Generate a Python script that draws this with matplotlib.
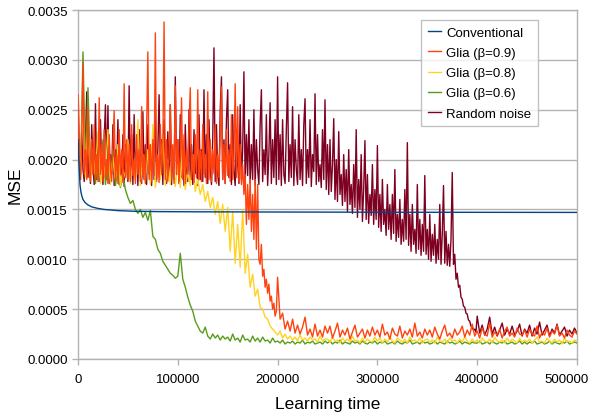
import numpy as np
import matplotlib
matplotlib.use("Agg")
import matplotlib.pyplot as plt
from matplotlib.ticker import FuncFormatter, MultipleLocator
from matplotlib.transforms import ScaledTranslation

plt.rcParams['font.family'] = ['Liberation Sans', 'DejaVu Sans']

# MSE values are given in units of 1e-4; learning time in samples
MSE_UNIT = 1e-4
FINE_STEP = 1250     # sampling of the dense (noisy) head segments
STEP = 2500          # sampling of the remaining segments

series_names = ["Conventional", "Glia (β=0.9)", "Glia (β=0.8)", "Glia (β=0.6)", "Random noise"]
x_ticks = [0, 100000, 200000, 300000, 400000, 500000]

# Conventional (smooth curve), x in thousands
conv_x_k = [0, 1, 2, 3, 4, 5, 7, 10, 14, 20, 26, 32, 40, 55, 80, 120, 200, 300, 400, 500]
conv_y = [22.0, 19.5, 17.5, 16.7, 16.3, 16.0, 15.7, 15.45, 15.25, 15.1, 15.0, 14.95,
          14.88, 14.82, 14.78, 14.76, 14.74, 14.72, 14.71, 14.7]

# Glia beta=0.9: head 0..198750 (step 1250), tail 200000..500000 (step 2500)
glia09_head = (
    [26.5, 20.0, 18.0, 22.5, 29.7, 18.5, 21.0, 18.0, 25.3, 19.0, 17.8, 22.0, 18.5, 23.5, 18.0, 20.5, 17.8, 26.2, 18.5, 21.5]
    + [17.8, 23.0, 18.2, 20.0, 17.6, 22.5, 19.0, 17.8, 21.5, 24.9, 18.0, 20.5, 17.6, 23.0, 18.5, 21.0, 17.7, 27.6, 18.2, 22.0]
    + [18.0, 21.5, 17.8, 23.5, 18.4, 20.0, 17.6, 22.5, 18.5, 21.0, 17.8, 25.3, 18.2, 20.5, 17.6, 23.0, 30.8, 18.0, 21.5, 17.8]
    + [22.0, 18.4, 32.7, 18.0, 20.5, 17.7, 23.5, 18.5, 21.0, 33.8, 18.0, 22.0, 17.8, 20.5, 25.5, 18.2, 21.5, 17.6, 27.4, 18.5]
    + [22.0, 17.8, 20.5, 26.2, 18.0, 22.5, 17.6, 21.0, 18.5, 23.5, 27.2, 18.0, 20.5, 17.7, 22.5, 18.2, 27.0, 18.0, 21.0, 17.8]
    + [23.5, 18.5, 20.5, 17.6, 26.8, 18.0, 22.0, 17.8, 21.0, 18.6, 23.5, 17.6, 20.5, 18.2, 22.5, 27.3, 18.0, 21.5, 17.6, 23.0]
    + [18.4, 21.0, 17.8, 24.5, 18.0, 20.5, 27.6, 18.2, 25.3, 17.8, 21.5, 17.5, 19.5, 16.5, 18.5, 13.5, 17.5, 14.0, 18.0, 12.8]
    + [16.5, 12.0, 18.0, 11.0, 17.5, 10.0, 9.5, 11.5, 8.3, 9.0, 7.2, 8.0, 6.6, 7.5, 5.8, 6.3, 5.0, 5.6, 4.3, 4.8]
)
glia09_tail = (
    [8.2, 4.0, 4.6, 3.0, 3.8, 2.8, 4.0, 2.6, 3.4, 2.5, 3.2, 4.2, 2.4, 3.0, 2.2, 3.5, 2.3, 2.9, 2.2, 3.3]
    + [2.6, 3.3, 2.1, 2.8, 3.6, 2.2, 2.9, 2.4, 3.1, 2.0, 2.7, 3.4, 2.2, 2.6, 3.0, 2.1, 2.9, 2.3, 3.2, 2.4]
    + [2.9, 2.2, 3.5, 2.4, 2.7, 2.0, 3.1, 2.5, 2.3, 3.3, 2.1, 2.8, 2.4, 3.0, 2.2, 3.6, 2.3, 2.7, 2.1, 3.0]
    + [2.4, 2.9, 2.2, 3.2, 2.5, 2.0, 2.8, 3.4, 2.3, 2.6, 2.1, 3.0, 2.4, 2.7, 3.3, 2.2, 2.9, 2.4, 3.5, 2.3]
    + [2.8, 2.1, 3.1, 2.5, 2.3, 3.6, 2.2, 2.7, 2.4, 3.0, 2.1, 2.8, 3.2, 2.3, 2.6, 2.2, 3.1, 2.5, 2.4, 2.9]
    + [2.2, 3.0, 2.5, 2.3, 3.3, 2.1, 2.7, 2.4, 3.1, 2.2, 2.8, 2.5, 3.4, 2.3, 2.6, 2.1, 2.9, 2.4, 2.2, 2.8]
    + [2.5]
)

# Glia beta=0.8: 0..500000 (step 2500)
glia08 = (
    [21.5, 19.0, 26.0, 18.2, 23.5, 17.8, 20.5, 18.5, 22.8, 17.6, 19.8, 18.4, 23.0, 17.5, 20.2, 18.0, 21.5, 17.3, 19.0, 18.2]
    + [22.0, 17.6, 19.5, 18.0, 24.0, 17.4, 20.5, 17.8, 21.0, 17.5, 23.5, 17.2, 19.8, 18.0, 22.5, 17.4, 20.0, 17.5, 21.2, 17.3]
    + [19.5, 17.2, 22.0, 17.0, 18.8, 17.4, 20.5, 16.8, 18.0, 16.5, 17.5, 15.8, 16.8, 15.2, 16.2, 14.5, 15.8, 13.6, 15.5, 12.8]
    + [15.2, 10.8, 14.8, 9.6, 13.5, 9.2, 15.0, 8.6, 10.5, 7.2, 8.5, 6.3, 7.0, 5.2, 5.0, 4.2, 4.0, 3.3, 3.0, 2.7]
    + [2.4, 2.8, 2.1, 2.5, 2.0, 2.3, 1.9, 2.2, 1.8, 2.4, 1.9, 2.1, 1.8, 2.2, 1.9, 2.0, 1.7, 2.3, 1.8, 2.0]
    + [2.0, 1.7, 2.2, 1.8, 1.9, 1.6, 2.1, 1.8, 2.0, 1.7, 2.3, 1.8, 1.9, 1.6, 2.1, 1.7, 2.0, 1.8, 1.7, 2.2]
    + [1.8, 2.1, 1.6, 2.0, 1.7, 2.2, 1.8, 1.6, 2.1, 1.9, 1.7, 2.0, 1.6, 2.2, 1.8, 1.9, 1.7, 2.1, 1.6, 1.9]
    + [2.0, 1.7, 1.9, 1.6, 2.2, 1.8, 1.7, 2.0, 1.6, 2.1, 1.8, 1.9, 1.6, 2.0, 1.7, 2.2, 1.8, 1.6, 2.0, 1.7]
    + [1.9, 1.6, 2.1, 1.8, 1.7, 2.0, 1.6, 2.2, 1.8, 1.7, 1.9, 1.6, 2.1, 1.7, 2.0, 1.8, 1.6, 2.1, 1.7, 1.9]
    + [1.7, 2.0, 1.6, 1.9, 2.2, 1.7, 1.8, 1.6, 2.1, 1.8, 1.6, 2.0, 1.7, 1.9, 1.5, 2.1, 1.7, 1.8, 1.6, 1.9]
    + [1.8]
)

# Glia beta=0.6: 0..500000 (step 2500)
glia06 = (
    [22.5, 18.0, 30.8, 19.0, 27.2, 18.5, 21.0, 17.6, 20.5, 18.2, 22.0, 17.5, 19.5, 18.0, 21.0, 17.4, 19.0, 17.2, 18.5, 17.0]
    + [16.2, 15.6, 15.9, 15.0, 14.6, 15.0, 14.2, 14.7, 13.9, 14.9, 12.3, 12.0, 11.0, 10.6, 9.8, 9.4, 9.0, 8.6, 8.4, 8.1]
    + [8.3, 10.6, 8.0, 7.2, 6.2, 5.4, 4.8, 3.8, 3.3, 2.8, 2.6, 3.2, 2.3, 2.0, 2.5, 2.1, 2.4, 1.9, 2.3, 2.0]
    + [2.2, 1.8, 2.5, 1.9, 2.1, 1.7, 2.4, 1.9, 2.0, 1.7, 2.3, 1.8, 2.1, 1.7, 2.2, 1.8, 1.9, 1.6, 2.1, 1.7]
    + [1.8, 1.6, 1.9, 1.5, 1.7, 1.6, 1.8, 1.5, 1.7, 1.6, 1.9, 1.5, 1.7, 1.6, 1.8, 1.5, 1.6, 1.7, 1.5, 1.8]
    + [1.6, 1.8, 1.5, 1.7, 1.6, 1.9, 1.5, 1.7, 1.6, 1.5, 1.8, 1.6, 1.7, 1.5, 1.8, 1.6, 1.5, 1.7, 1.6, 1.8]
    + [1.5, 1.7, 1.6, 1.8, 1.5, 1.6, 1.7, 1.5, 1.8, 1.6, 1.5, 1.7, 1.6, 1.9, 1.5, 1.6, 1.7, 1.5, 1.8, 1.6]
    + [1.7, 1.5, 1.6, 1.8, 1.5, 1.7, 1.6, 1.5, 1.8, 1.6, 1.7, 1.5, 1.6, 1.8, 1.5, 1.7, 1.6, 1.5, 1.7, 1.6]
    + [1.6, 1.8, 1.5, 1.6, 1.7, 1.5, 1.8, 1.6, 1.5, 1.7, 1.6, 1.8, 1.5, 1.6, 1.7, 1.5, 1.6, 1.8, 1.5, 1.7]
    + [1.5, 1.7, 1.6, 1.8, 1.5, 1.6, 1.7, 1.5, 1.6, 1.8, 1.5, 1.7, 1.6, 1.5, 1.7, 1.6, 1.8, 1.5, 1.6, 1.7]
    + [1.6]
)

# Random noise: head 0..398750 (step 1250), tail 400000..500000 (step 2500)
noise_head = (
    [27.7, 21.0, 18.5, 23.0, 19.0, 17.8, 22.0, 26.8, 18.2, 20.5, 17.6, 23.5, 19.2, 17.5, 25.6, 18.0, 21.5, 17.8, 24.0, 19.0]
    + [17.5, 22.0, 25.5, 18.0, 25.4, 17.6, 20.5, 18.5, 23.5, 17.4, 21.0, 19.0, 24.0, 17.5, 20.0, 18.2, 22.5, 17.3, 21.5, 19.0]
    + [17.8, 27.4, 18.0, 22.5, 17.5, 24.5, 18.8, 21.0, 17.4, 23.0, 19.5, 17.6, 24.8, 18.0, 21.5, 17.5, 23.5, 18.5, 20.5, 17.4]
    + [22.5, 18.0, 25.0, 17.8, 21.0, 26.5, 18.2, 22.0, 17.5, 24.0, 19.0, 17.6, 22.8, 18.4, 25.5, 17.5, 21.0, 18.0, 28.3, 18.5]
    + [22.0, 17.6, 24.5, 18.2, 21.0, 17.4, 23.5, 19.0, 17.8, 25.0, 18.0, 21.5, 17.5, 23.0, 18.6, 20.5, 17.4, 24.5, 18.0, 21.0]
    + [17.8, 27.0, 18.2, 22.5, 17.6, 24.0, 19.0, 17.5, 22.0, 31.2, 17.8, 23.5, 18.5, 17.4, 25.0, 28.3, 18.0, 22.0, 17.6, 24.0]
    + [27.0, 18.2, 21.5, 17.5, 24.5, 18.8, 17.4, 23.0, 19.5, 17.6, 25.5, 18.0, 21.0, 28.8, 17.5, 22.5, 18.4, 24.0, 17.6, 21.5]
    + [18.0, 25.0, 17.4, 22.0, 19.0, 17.5, 23.5, 27.0, 17.8, 21.0, 18.5, 24.5, 17.4, 20.5, 25.7, 17.6, 22.0, 18.2, 24.0, 17.5]
    + [28.3, 18.0, 22.5, 17.4, 24.0, 18.5, 17.6, 23.0, 27.7, 17.8, 21.5, 18.2, 25.3, 17.4, 22.0, 19.0, 17.5, 24.5, 18.0, 21.0]
    + [17.4, 23.5, 26.1, 17.6, 21.0, 18.2, 24.0, 17.3, 20.5, 18.8, 26.6, 17.5, 22.5, 17.8, 19.5, 17.2, 23.0, 18.0, 26.0, 17.0]
    + [21.5, 16.5, 22.0, 16.8, 19.5, 24.1, 16.0, 20.0, 15.8, 22.8, 16.5, 18.5, 15.4, 20.5, 15.8, 19.0, 14.8, 21.0, 15.5, 17.5]
    + [14.6, 19.5, 15.2, 23.0, 14.2, 18.0, 15.0, 20.5, 13.8, 17.0, 21.9, 14.0, 18.5, 13.6, 16.5, 14.4, 19.5, 13.5, 17.0, 14.0]
    + [21.4, 13.2, 16.5, 12.8, 18.0, 13.5, 15.0, 12.4, 17.5, 13.0, 15.5, 12.0, 16.5, 12.6, 19.0, 11.8, 14.5, 12.2, 16.0, 11.5]
    + [14.0, 11.8, 17.0, 12.0, 21.7, 11.4, 14.5, 10.8, 15.5, 11.5, 13.0, 10.6, 17.5, 11.0, 14.0, 10.4, 13.5, 10.8, 18.4, 10.5]
    + [13.0, 10.0, 14.5, 9.8, 12.5, 10.4, 13.5, 9.6, 12.0, 10.0, 15.5, 9.5, 12.5, 17.4, 9.6, 12.8, 9.4, 11.5, 9.3, 12.0]
    + [18.7, 9.5, 10.5, 8.0, 8.6, 7.2, 7.4, 6.2, 6.0, 5.3, 5.2, 4.6, 4.5, 3.9, 3.8, 3.3, 3.2, 2.9, 3.0, 2.7]
)
noise_tail = (
    [4.3, 2.6, 3.4, 2.4, 3.0, 4.2, 2.5, 3.2, 2.3, 2.9, 3.6, 2.4, 3.0, 2.5, 3.3, 2.4, 2.8, 3.5, 2.3, 3.0]
    + [2.6, 3.4, 2.3, 3.1, 2.5, 3.7, 2.4, 2.9, 3.4, 2.3, 3.0, 2.6, 3.5, 2.4, 2.8, 3.2, 2.3, 2.9, 2.5, 3.1]
    + [2.6]
)

colors = ["#004586", "#ff420e", "#ffd320", "#579d1c", "#7e0021"]
zorders = [6, 5, 4, 3, 2]


def head_tail_x(head, tail):
    xh = np.arange(len(head)) * FINE_STEP
    xt = len(head) * FINE_STEP + np.arange(len(tail)) * STEP
    return np.concatenate([xh, xt])


fig = plt.figure(figsize=(5.89, 4.14), dpi=100)
ax = fig.add_axes([78 / 589, 1 - 360 / 414, (577 - 78) / 589, (360 - 11) / 414])

lw = 1.0
ax.plot(np.array(conv_x_k) * 1000, np.array(conv_y) * MSE_UNIT, color=colors[0], lw=lw,
        label=series_names[0], zorder=zorders[0])
ax.plot(head_tail_x(glia09_head, glia09_tail), np.array(glia09_head + glia09_tail) * MSE_UNIT,
        color=colors[1], lw=lw, label=series_names[1], zorder=zorders[1])
ax.plot(np.arange(len(glia08)) * STEP, np.array(glia08) * MSE_UNIT,
        color=colors[2], lw=lw, label=series_names[2], zorder=zorders[2])
ax.plot(np.arange(len(glia06)) * STEP, np.array(glia06) * MSE_UNIT,
        color=colors[3], lw=lw, label=series_names[3], zorder=zorders[3])
ax.plot(head_tail_x(noise_head, noise_tail), np.array(noise_head + noise_tail) * MSE_UNIT,
        color=colors[4], lw=lw, label=series_names[4], zorder=zorders[4])

ax.set_xlim(0, 500000)
ax.set_ylim(0, 0.0035)
ax.set_xticks(x_ticks)
ax.set_xticklabels([str(t) for t in x_ticks])
ax.yaxis.set_major_locator(MultipleLocator(0.0005))
ax.yaxis.set_major_formatter(FuncFormatter(lambda v, p: f"{v:.4f}"))

gc = "#b3b3b3"
ax.grid(axis='y', color=gc, lw=1.0, zorder=0)
ax.set_axisbelow(True)
for s in ax.spines.values():
    s.set_color(gc)
    s.set_linewidth(1.0)
ax.tick_params(axis='both', colors=gc, labelcolor='black', labelsize=9.5, length=4, width=1.0, direction='out')
ax.tick_params(axis='x', pad=6)

# the last x tick label is nudged left so it stays inside the figure (as in the reference)
last_lbl = ax.xaxis.get_major_ticks()[-1].label1
last_lbl.set_transform(last_lbl.get_transform() + ScaledTranslation(-0.10, 0, fig.dpi_scale_trans))

ax.set_xlabel("Learning time", fontsize=12.5, labelpad=8)
ax.set_ylabel("MSE", fontsize=12.5, labelpad=3)

leg = ax.legend(loc='upper right', bbox_to_anchor=(0.922, 0.971), borderaxespad=0, fontsize=9.5,
                frameon=True, fancybox=False, edgecolor=gc, handlelength=1.0, handletextpad=0.4,
                labelspacing=0.6, borderpad=0.5)
leg.get_frame().set_linewidth(1.0)
leg.set_zorder(10)

fig.savefig("out.png", dpi=100)
